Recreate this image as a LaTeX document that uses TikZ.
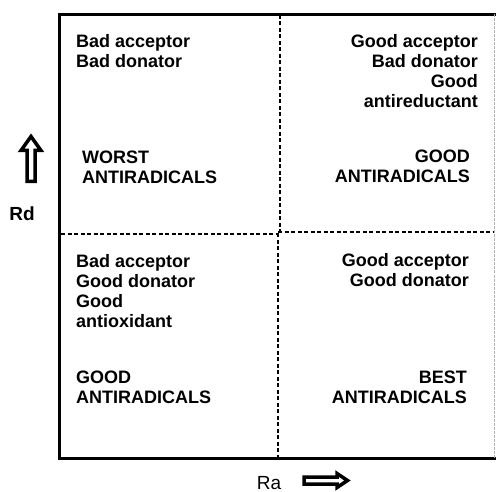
\documentclass[tikz,border=0pt]{standalone}
\usepackage{fontspec}
\setmainfont{Liberation Sans}
\usetikzlibrary{positioning}

\tikzset{
	cell/.style={inner sep=0pt,font=\fontsize{18}{20}\selectfont\bfseries},
	axislabel/.style={inner sep=0pt,font=\fontsize{19}{21}\selectfont},
	frame/.style={line width=3.6pt,line cap=rect},
	divider/.style={line width=2pt,dash pattern=on 4pt off 2.5pt},
	fatarrow/.style={line width=3.5pt,line join=miter,fill=white}
}

\begin{document}
\begin{tikzpicture}[x=1pt,y=-1pt]
\useasboundingbox (0,0) rectangle (496,492);

% frame of the chart
\draw[frame] (496,14.5) -- (59.5,14.5) -- (59.5,458.5) -- (496,458.5);
\draw[gray!60,line width=1.4pt,dash pattern=on 3pt off 1pt] (494.5,14.5) -- (494.5,458);

% quadrant dividers
\draw[divider] (280,15) -- (280,233.5);
\draw[divider] (277.5,233.5) -- (277.5,457);
\draw[divider] (61,234.5) -- (278,234.5);
\draw[divider] (278,232.5) -- (494,232.5);

% upper left
\node[cell,anchor=base west,align=left] (ulprops) at (76,68) {Bad acceptor\\Bad donator};
\node[cell,anchor=base west,align=left] (ulrank) at (82,184) {WORST\\ANTIRADICALS};

% upper right
\node[cell,anchor=base east,align=right] (urprops) at (478,108) {Good acceptor\\Bad donator\\Good\\antireductant};
\node[cell,anchor=base east,align=right] (urrank) at (470,183) {GOOD\\ANTIRADICALS};

% lower left
\node[cell,anchor=base west,align=left] (llprops) at (76,327) {Bad acceptor\\Good donator\\Good\\antioxidant};
\node[cell,anchor=base west,align=left] (llrank) at (76,403) {GOOD\\ANTIRADICALS};

% lower right
\node[cell,anchor=base east,align=right] (lrprops) at (469,287) {Good acceptor\\Good donator};
\node[cell,anchor=base east,align=right] (lrrank) at (467,403) {BEST\\ANTIRADICALS};

% Rd axis
\draw[fatarrow] (31,136.5) -- (41,150.5) -- (35,150.5) -- (35,181.5) -- (27,181.5) -- (27,150.5) -- (21,150.5) -- cycle;
\node[axislabel,font=\fontsize{19}{21}\selectfont\bfseries,anchor=base] (rd) at (22,221) {Rd};

% Ra axis
\node[axislabel,anchor=base] (ra) at (269,489) {Ra};
\draw[fatarrow] (347.5,480.5) -- (337,473.5) -- (337,477) -- (304,477) -- (304,484) -- (337,484) -- (337,487.5) -- cycle;

\end{tikzpicture}
\end{document}
